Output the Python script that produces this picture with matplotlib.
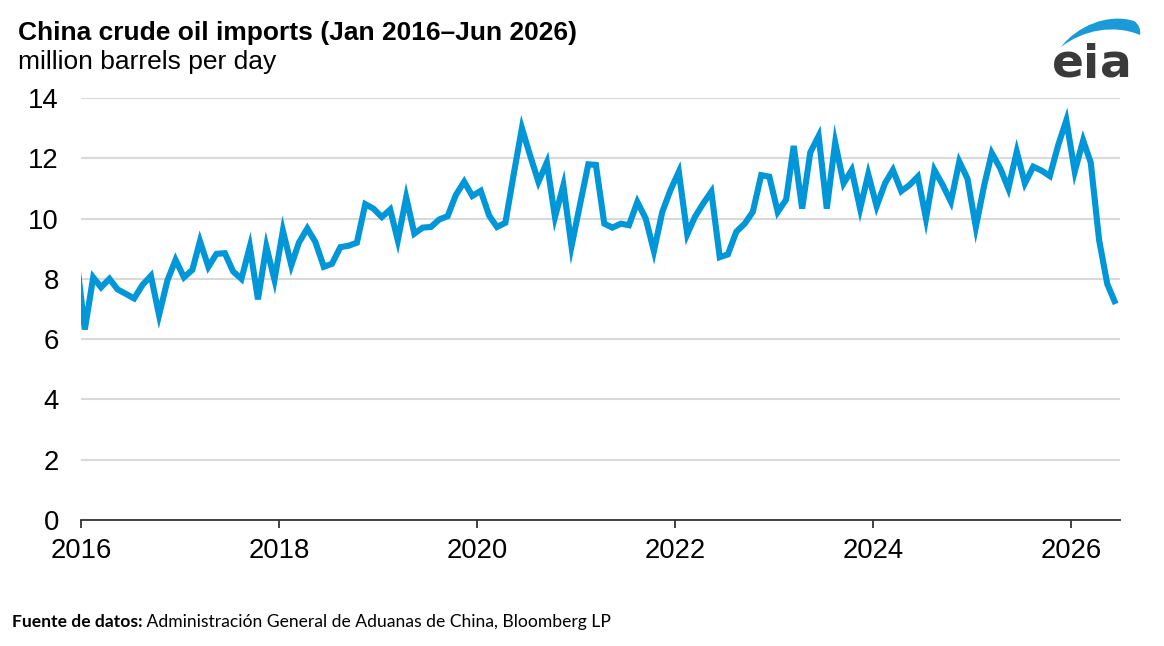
import matplotlib
matplotlib.use("Agg")
import matplotlib.pyplot as plt
import matplotlib.dates as mdates
from matplotlib.path import Path
from matplotlib.patches import PathPatch
import pandas as pd

# ---- data (million barrels per day), monthly, Dec 2015 (clipped) .. Jun 2026
start_month = "2015-12"
end_month = "2026-06"
imports_2015 = [8.7]
imports_2016 = [6.32, 8.05, 7.72, 8.0, 7.65, 7.5, 7.35, 7.8, 8.1, 6.8, 7.95, 8.63]
imports_2017 = [8.05, 8.3, 9.25, 8.4, 8.83, 8.85, 8.25, 8.0, 9.07, 7.32, 9.07, 7.97]
imports_2018 = [9.6, 8.45, 9.2, 9.67, 9.22, 8.4, 8.5, 9.05, 9.1, 9.2, 10.48, 10.33]
imports_2019 = [10.05, 10.3, 9.28, 10.7, 9.5, 9.7, 9.72, 9.97, 10.08, 10.78, 11.22, 10.75]
imports_2020 = [10.92, 10.1, 9.72, 9.86, 11.43, 13.0, 12.1, 11.22, 11.86, 10.05, 11.1, 9.08]
imports_2021 = [10.45, 11.8, 11.78, 9.83, 9.7, 9.83, 9.78, 10.55, 10.0, 8.92, 10.22, 10.94]
imports_2022 = [11.55, 9.48, 10.05, 10.5, 10.89, 8.72, 8.81, 9.56, 9.83, 10.22, 11.44, 11.39]
imports_2023 = [10.22, 10.63, 12.41, 10.33, 12.19, 12.74, 10.33, 12.52, 11.17, 11.61, 10.33, 11.47]
imports_2024 = [10.41, 11.17, 11.61, 10.91, 11.11, 11.39, 10.0, 11.61, 11.11, 10.56, 11.89, 11.33]
imports_2025 = [9.72, 11.11, 12.17, 11.67, 11.0, 12.22, 11.17, 11.72, 11.59, 11.41, 12.44, 13.26]
imports_2026 = [11.56, 12.59, 11.86, 9.28, 7.83, 7.17]

tick_years = [2016, 2018, 2020, 2022, 2024, 2026]
y_ticks = [0, 2, 4, 6, 8, 10, 12, 14]

title = "China crude oil imports (Jan 2016\u2013Jun 2026)"
subtitle = "million barrels per day"
source_bold = "Fuente de datos:"
source_text = " Administraci\u00f3n General de Aduanas de China, Bloomberg LP"

values = (imports_2015 + imports_2016 + imports_2017 + imports_2018 + imports_2019
          + imports_2020 + imports_2021 + imports_2022 + imports_2023 + imports_2024
          + imports_2025 + imports_2026)
months = pd.period_range(start_month, end_month, freq="M").to_timestamp() + pd.Timedelta(days=14)

W, H = 1164, 646
fig = plt.figure(figsize=(W / 100, H / 100), dpi=100)
fig.patch.set_facecolor("white")
plt.rcParams["font.family"] = ["Liberation Sans", "DejaVu Sans"]

ax = fig.add_axes([81 / W, 1 - 520 / H, (1120 - 81) / W, (520 - 98) / H])
ax.plot(months, values, color="#0096d7", lw=4.4, solid_joinstyle="miter", solid_capstyle="butt", zorder=3)

ax.set_xlim(pd.Timestamp("2016-01-01"), pd.Timestamp("2026-07-01"))
ax.set_ylim(0, 14)
ax.set_yticks(y_ticks)
ax.set_xticks([pd.Timestamp(f"{y}-01-01") for y in tick_years])
ax.xaxis.set_major_formatter(mdates.DateFormatter("%Y"))

ax.grid(axis="y", color="#d9d9d9", lw=1.5, zorder=1)
ax.set_axisbelow(True)
for s in ["top", "right", "left"]:
    ax.spines[s].set_visible(False)
ax.spines["bottom"].set_color("#333333")
ax.spines["bottom"].set_linewidth(1.3)
ax.spines["bottom"].set_zorder(4)
ax.tick_params(axis="y", length=0, pad=16, labelsize=19.8, labelcolor="#000000")
ax.tick_params(axis="x", length=5.8, width=1.3, color="#333333", pad=7, labelsize=19.8, labelcolor="#000000")

fig.text(18 / W, 1 - 40 / H, title, fontsize=19, fontweight="bold", va="baseline", ha="left", color="#000000")
fig.text(18 / W, 1 - 69 / H, subtitle, fontsize=19, va="baseline", ha="left", color="#000000")

# source line
t1 = fig.text(12 / W, 1 - 627 / H, source_bold, fontsize=12.6, fontweight="bold", family=["Lato", "DejaVu Sans"],
              va="baseline", ha="left", color="#000000")
fig.canvas.draw()
bb = t1.get_window_extent()
fig.text(bb.x1 / W, 1 - 627 / H, source_text, fontsize=12.6, family=["Lato", "DejaVu Sans"],
         va="baseline", ha="left", color="#000000")

# eia logo
def px(x, y):
    return (x / W, 1 - y / H)

verts = [px(1061, 47),
         px(1077, 26), px(1108, 13), px(1134, 21),
         px(1139, 24), px(1141, 30), px(1140, 35),
         px(1114, 24), px(1083, 30), px(1061, 47),
         px(1061, 47)]
codes = [Path.MOVETO,
         Path.CURVE4, Path.CURVE4, Path.CURVE4,
         Path.CURVE4, Path.CURVE4, Path.CURVE4,
         Path.CURVE4, Path.CURVE4, Path.CURVE4,
         Path.CLOSEPOLY]
fig.add_artist(PathPatch(Path(verts, codes), transform=fig.transFigure, facecolor="#1a9bd7",
                         edgecolor="none"))
for letter, cx in [("e", 1068), ("i", 1091), ("a", 1116)]:
    fig.text(cx / W, 1 - 78 / H, letter, fontsize=34, fontweight="bold", family=["DejaVu Sans"],
             color="#3a3a3a", ha="center", va="baseline")

fig.savefig("out.png", dpi=100, facecolor="white")
